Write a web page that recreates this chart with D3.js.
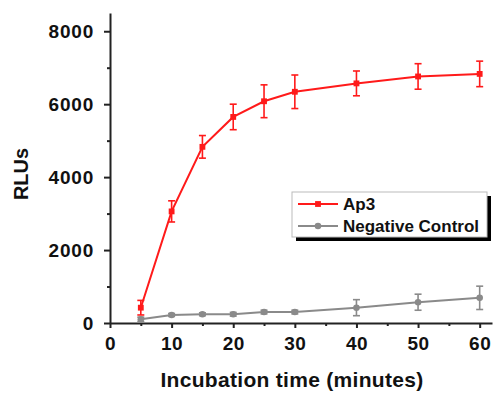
<!DOCTYPE html>
<html>
<head>
<meta charset="utf-8">
<script src="https://cdn.jsdelivr.net/npm/d3@7"></script>
<style>
  body { margin: 0; background: #fff; }
  svg text { font-family: "Liberation Sans", Arial, sans-serif; font-weight: bold; fill: #111; }
</style>
</head>
<body>
<div id="chart"></div>
<script>
const svgWidth = 493
const svgHeight = 393

// data
const times = [5, 10, 15, 20, 25, 30, 40, 50, 60]
const ap3 = [420, 3060, 4830, 5650, 6080, 6340, 6570, 6760, 6830]
const ap3Err = [200, 290, 310, 350, 450, 460, 340, 350, 350]
const negCtrl = [100, 220, 240, 240, 300, 300, 420, 570, 690]
const negErr = [60, 40, 40, 50, 50, 50, 220, 220, 320]
const xTicks = [0, 10, 20, 30, 40, 50, 60]
const xMinor = [5, 15, 25, 35, 45, 55]
const yTicks = [0, 2000, 4000, 6000, 8000]
const yMinor = [1000, 3000, 5000, 7000]
const seriesNames = ["Ap3", "Negative Control"]

let svg = d3.select("#chart")
  .append("svg")
  .attr("width", svgWidth)
  .attr("height", svgHeight)

let x = d3.scaleLinear().domain([0, 62]).range([110, 492])
let y = d3.scaleLinear().domain([0, 8500]).range([323, 13])

// axes
svg.append("g")
  .attr("transform", `translate(0, ${y(0)})`)
  .call(d3.axisBottom(x).tickValues(xMinor).tickSize(3).tickFormat(""))
  .call(g => g.select(".domain").remove())
let xAxis = svg.append("g")
  .attr("transform", `translate(0, ${y(0)})`)
  .call(d3.axisBottom(x).tickValues(xTicks).tickSize(5).tickSizeOuter(0).tickPadding(9).tickFormat(d3.format("d")))
xAxis.selectAll("text").style("font-size", "19px").attr("letter-spacing", "0.5px")

svg.append("g")
  .attr("transform", `translate(${x(0)}, 0)`)
  .call(d3.axisLeft(y).tickValues(yMinor).tickSize(3).tickFormat(""))
  .call(g => g.select(".domain").remove())
let yAxis = svg.append("g")
  .attr("transform", `translate(${x(0)}, 0)`)
  .call(d3.axisLeft(y).tickValues(yTicks).tickSize(6).tickSizeOuter(0).tickPadding(10).tickFormat(d3.format("d")))
yAxis.selectAll("text").style("font-size", "19px").attr("letter-spacing", "0.8px")

svg.selectAll(".domain, .tick line").attr("stroke", "#222").attr("stroke-width", 2)

// axis titles
svg.append("text")
  .attr("x", 292)
  .attr("y", 387)
  .attr("text-anchor", "middle")
  .style("font-size", "21px")
  .attr("letter-spacing", "0.3px")
  .text("Incubation time (minutes)")
svg.append("text")
  .attr("transform", "translate(28, 174) rotate(-90)")
  .attr("text-anchor", "middle")
  .style("font-size", "20px")
  .text("RLUs")

function drawSeries(vals, errs, color, shape) {
  let g = svg.append("g")
  let pts = times.map((t, i) => ({ t: t, v: vals[i], e: errs[i] }))
  g.append("path")
    .datum(pts)
    .attr("fill", "none")
    .attr("stroke", color)
    .attr("stroke-width", 2)
    .attr("d", d3.line().x(d => x(d.t)).y(d => y(d.v)))
  let eb = g.selectAll(".err").data(pts).enter().append("g")
  eb.append("line")
    .attr("x1", d => x(d.t)).attr("x2", d => x(d.t))
    .attr("y1", d => y(d.v - d.e)).attr("y2", d => y(d.v + d.e))
    .attr("stroke", color).attr("stroke-width", 1.6)
  eb.append("line")
    .attr("x1", d => x(d.t) - 3.5).attr("x2", d => x(d.t) + 3.5)
    .attr("y1", d => y(d.v - d.e)).attr("y2", d => y(d.v - d.e))
    .attr("stroke", color).attr("stroke-width", 1.6)
  eb.append("line")
    .attr("x1", d => x(d.t) - 3.5).attr("x2", d => x(d.t) + 3.5)
    .attr("y1", d => y(d.v + d.e)).attr("y2", d => y(d.v + d.e))
    .attr("stroke", color).attr("stroke-width", 1.6)
  g.selectAll(".mark").data(pts).enter().append("path")
    .attr("transform", d => `translate(${x(d.t)}, ${y(d.v)})`)
    .attr("d", d3.symbol().type(shape).size(34))
    .attr("fill", color)
}

drawSeries(negCtrl, negErr, "#8a8a8a", d3.symbolCircle)
drawSeries(ap3, ap3Err, "#ff1a1a", d3.symbolSquare)

// legend
let legend = svg.append("g").attr("transform", "translate(292, 192)")
legend.append("rect")
  .attr("x", 4).attr("y", 4).attr("width", 195).attr("height", 45)
  .attr("fill", "#000")
legend.append("rect")
  .attr("x", 0).attr("y", 0).attr("width", 195).attr("height", 45)
  .attr("fill", "#fff").attr("stroke", "#bbb").attr("stroke-width", 1)
let legColors = ["#ff1a1a", "#8a8a8a"]
let legShapes = [d3.symbolSquare, d3.symbolCircle]
seriesNames.forEach((name, i) => {
  let ly = 12 + i * 22
  legend.append("line")
    .attr("x1", 6).attr("x2", 46).attr("y1", ly).attr("y2", ly)
    .attr("stroke", legColors[i]).attr("stroke-width", 2)
  legend.append("path")
    .attr("transform", `translate(26, ${ly})`)
    .attr("d", d3.symbol().type(legShapes[i]).size(34))
    .attr("fill", legColors[i])
  legend.append("text")
    .attr("x", 51).attr("y", ly + 6)
    .style("font-size", "17px")
    .text(name)
})
</script>
</body>
</html>
